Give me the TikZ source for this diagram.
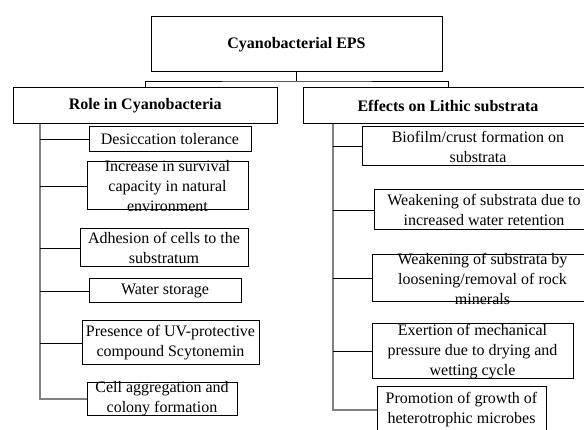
\documentclass[tikz,border=0pt]{standalone}
\usepackage{fontspec}
\setmainfont{Liberation Serif}
\begin{document}
\begin{tikzpicture}[x=1pt,y=-1pt,
  box/.style={draw=black,line width=1pt,inner sep=0pt,fill=white},
  txt/.style={inner sep=0pt,align=center,font=\fontsize{16}{20}\selectfont},
  btxt/.style={txt,font=\fontsize{16}{20}\selectfont\bfseries},
  trunk/.style={draw=black!50,line width=1.5pt},
  branch/.style={draw=black,line width=0.9pt}]
\useasboundingbox (0,0) rectangle (584,430);
\clip (0,0) rectangle (584,430);
\fill[white] (0,0) rectangle (584,430);
% top level
\node[box,minimum width=291pt,minimum height=54.5pt] (top) at (296.5,44.25) {};
\node[btxt] at (top) {Cyanobacterial EPS};
\node[box,minimum width=263.6pt,minimum height=36pt] (role) at (145.2,106) {};
\node[btxt] at (role) {Role in Cyanobacteria};
\node[box,minimum width=289pt,minimum height=36pt] (eff) at (448,106) {};
\node[btxt] at (eff) {Effects on Lithic substrata};
\coordinate (mid) at (296.5,81);
\draw[branch] (top.south) -- (mid);
\draw[branch] (role.north) |- (mid) -| (eff.north);
% left items
\node[box,minimum width=162pt,minimum height=25pt] (b1) at (170,139.5) {};
\node[txt] at (b1) {Desiccation tolerance};
\node[box,minimum width=161pt,minimum height=48pt] (b2) at (167.5,186) {};
\node[txt] at (b2) {Increase in survival\\capacity in natural\\environment};
\node[box,minimum width=168pt,minimum height=38pt] (b3) at (164,248) {};
\node[txt] at (b3) {Adhesion of cells to the\\substratum};
\node[box,minimum width=152pt,minimum height=24pt] (b4) at (165,291) {};
\node[txt] at (b4) {Water storage};
\node[box,minimum width=177pt,minimum height=44pt] (b5) at (170.5,343) {};
\node[txt] at (b5) {Presence of UV-protective\\compound Scytonemin};
\node[box,minimum width=150pt,minimum height=32pt] (b6) at (162,399) {};
\node[txt] at (b6) {Cell aggregation and\\colony formation};
% right items
\node[box,minimum width=232pt,minimum height=39pt] (r1) at (478,146.5) {};
\node[txt] at (r1) {Biofilm/crust formation on\\substrata};
\node[box,minimum width=220pt,minimum height=40pt] (r2) at (484,210) {};
\node[txt] at (r2) {Weakening of substrata due to\\increased water retention};
\node[box,minimum width=221pt,minimum height=47pt] (r3) at (482.5,278.5) {};
\node[txt] at (r3) {Weakening of substrata by\\loosening/removal of rock\\minerals};
\node[box,minimum width=201pt,minimum height=55pt] (r4) at (472.5,351.5) {};
\node[txt] at (r4) {Exertion of mechanical\\pressure due to drying and\\wetting cycle};
\node[box,minimum width=169pt,minimum height=46pt] (r5) at (461.5,410) {};
\node[txt] at (r5) {Promotion of growth of\\heterotrophic microbes};
% trunks
\coordinate (tl) at (40,124);
\coordinate (tr) at (333,124);
\draw[trunk] (tl) |- (b6.west);
\draw[trunk] (tr) |- (r5.west);
\foreach \n in {b1,b2,b3,b4,b5}{\draw[branch] (\n.west) -- (\n.west -| tl);}
\foreach \n in {r1,r2,r3,r4}{\draw[branch] (\n.west) -- (\n.west -| tr);}
\end{tikzpicture}
\end{document}
